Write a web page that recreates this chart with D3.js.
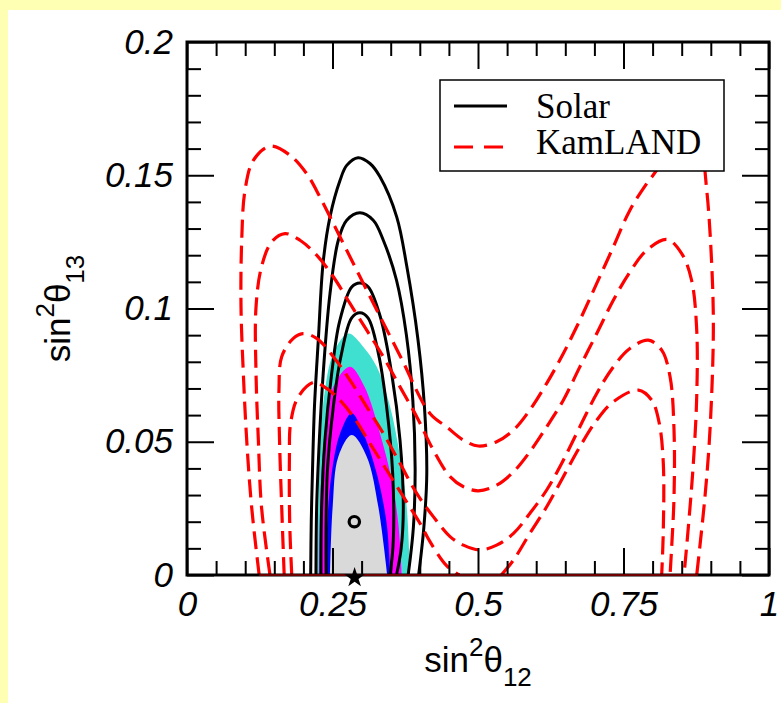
<!DOCTYPE html>
<html><head><meta charset="utf-8">
<script src="https://cdn.jsdelivr.net/npm/d3@7"></script>
<style>
html,body{margin:0;padding:0;background:#ffffb4;}
svg{display:block;}
</style></head><body>
<svg id="chart" width="781" height="703"></svg>
<script>
// ---------- data ----------
const xTickValues = [0, 0.25, 0.5, 0.75, 1];
const xTickLabels = ["0", "0.25", "0.5", "0.75", "1"];
const yTickValues = [0, 0.05, 0.1, 0.15, 0.2];
const yTickLabels = ["0", "0.05", "0.1", "0.15", "0.2"];
const legendLabels = ["Solar", "KamLAND"];

// combined-fit filled regions (outer to inner)
const fillTurquoise = [[0.222,0],[0.2256,0.0256],[0.2297,0.0506],[0.237,0.0694],[0.2514,0.0831],[0.277,0.0906],[0.303,0.0856],[0.326,0.0781],[0.349,0.0631],[0.366,0.0444],[0.3775,0.0256],[0.383,0]];
const fillMagenta = [[0.2268,0],[0.2297,0.0319],[0.237,0.0531],[0.2514,0.0706],[0.280,0.0781],[0.305,0.0706],[0.3316,0.0531],[0.3517,0.0356],[0.363,0.0194],[0.369,0]];
const fillBlue = [[0.2388,0],[0.241,0.0194],[0.2486,0.0381],[0.263,0.0531],[0.283,0.0607],[0.303,0.0531],[0.326,0.0381],[0.343,0.0194],[0.349,0]];
const fillGray = [[0.2457,0],[0.2503,0.0256],[0.26,0.0444],[0.283,0.0525],[0.3088,0.0444],[0.3287,0.0256],[0.344,0]];

// solar contours (black solid)
const solar1 = [[0.2125,0],[0.2135,0.02],[0.2155,0.0381],[0.219,0.0631],[0.2256,0.0881],[0.234,0.1174],[0.2457,0.1344],[0.263,0.1481],[0.2744,0.1537],[0.294,0.1566],[0.3144,0.1544],[0.3316,0.1494],[0.3603,0.1344],[0.3775,0.116],[0.397,0.0881],[0.408,0.0631],[0.412,0.0381],[0.407,0.018],[0.398,0]];
const solar2 = [[0.2216,0],[0.2228,0.0256],[0.2274,0.0506],[0.234,0.0756],[0.2457,0.1056],[0.26,0.1256],[0.2744,0.1331],[0.297,0.1359],[0.320,0.1331],[0.3373,0.1256],[0.360,0.1106],[0.377,0.09],[0.388,0.0656],[0.392,0.04],[0.389,0.018],[0.380,0]];
const solar3 = [[0.2302,0],[0.2314,0.0256],[0.237,0.0506],[0.2486,0.0756],[0.262,0.095],[0.283,0.1081],[0.297,0.1096],[0.3115,0.1081],[0.332,0.097],[0.3517,0.0756],[0.366,0.0506],[0.3717,0.0256],[0.368,0.01],[0.360,0]];
const solar4 = [[0.239,0],[0.241,0.0381],[0.2514,0.0631],[0.264,0.0815],[0.283,0.0965],[0.297,0.0984],[0.311,0.0965],[0.329,0.083],[0.343,0.0631],[0.3534,0.0381],[0.3545,0.013],[0.349,0]];

// KamLAND contours (red dashed)
const kam1 = [[0.124,0],[0.111,0.0256],[0.1026,0.0506],[0.0968,0.0756],[0.0928,0.1006],[0.094,0.1256],[0.0997,0.1444],[0.114,0.1556],[0.1426,0.1609],[0.177,0.1575],[0.2056,0.1506],[0.2285,0.1418],[0.2457,0.1344],[0.2686,0.1244],[0.2915,0.1144],[0.366,0.0823],[0.4175,0.0606],[0.446,0.0556],[0.475,0.0506],[0.5006,0.0484],[0.532,0.050],[0.561,0.0544],[0.589,0.0619],[0.618,0.0719],[0.6466,0.0831],[0.675,0.0956],[0.704,0.1094],[0.7325,0.1231],[0.761,0.1369],[0.790,0.1469],[0.807,0.1519],[0.835,0.163],[0.862,0.167],[0.882,0.161],[0.893,0.1444],[0.9015,0.1169],[0.9044,0.0919],[0.8986,0.0544],[0.890,0.0294],[0.8758,0]];
const kam2 = [[0.1426,0],[0.128,0.0256],[0.1226,0.0506],[0.1186,0.0756],[0.1186,0.1006],[0.128,0.1156],[0.1455,0.125],[0.1684,0.1281],[0.1942,0.1256],[0.2228,0.12],[0.2514,0.1119],[0.280,0.1019],[0.3088,0.0919],[0.3373,0.0819],[0.366,0.0706],[0.3947,0.0594],[0.4232,0.0469],[0.452,0.0369],[0.475,0.0331],[0.5006,0.0316],[0.532,0.0337],[0.561,0.0387],[0.589,0.0462],[0.618,0.0556],[0.6466,0.0656],[0.675,0.0781],[0.704,0.0906],[0.7325,0.1031],[0.761,0.1137],[0.790,0.1219],[0.825,0.1259],[0.85,0.1206],[0.867,0.1106],[0.8758,0.0919],[0.8758,0.0669],[0.87,0.0419],[0.861,0.0169],[0.854,0]];
const kam3 = [[0.167,0],[0.1627,0.0256],[0.159,0.0506],[0.158,0.0694],[0.1627,0.0819],[0.1827,0.0888],[0.199,0.0906],[0.2228,0.0888],[0.2514,0.0819],[0.280,0.0731],[0.3088,0.0631],[0.3373,0.0531],[0.366,0.0419],[0.3947,0.0306],[0.4232,0.0219],[0.452,0.0144],[0.475,0.0112],[0.503,0.0094],[0.532,0.0112],[0.561,0.0156],[0.589,0.0231],[0.618,0.0319],[0.6466,0.0431],[0.675,0.0556],[0.704,0.0681],[0.7325,0.0781],[0.761,0.085],[0.7927,0.0881],[0.8156,0.0844],[0.83,0.0744],[0.8368,0.0544],[0.8368,0.0294],[0.8328,0.0106],[0.83,0]];
const kam4Left = [[0.180,0],[0.1765,0.0194],[0.176,0.0444],[0.178,0.0569],[0.1913,0.0669],[0.218,0.0723],[0.234,0.0709],[0.257,0.0669],[0.2858,0.0594],[0.3144,0.0494],[0.343,0.0394],[0.3717,0.0294],[0.4003,0.0194],[0.4175,0.0125],[0.446,0.0035],[0.468,0]];
const kam4Right = [[0.54,0],[0.561,0.0056],[0.589,0.0156],[0.618,0.0256],[0.6466,0.0369],[0.675,0.0481],[0.704,0.0581],[0.7325,0.065],[0.7755,0.0694],[0.7985,0.0656],[0.8115,0.0569],[0.8184,0.0419],[0.8184,0.0169],[0.8156,0]];
const kamBaseline = [[0.124,0],[0.878,0]];

const bestFitCircle = [0.2875, 0.02];
const bestFitStar = [0.288, -0.001];

// ---------- drawing ----------
const svg = d3.select("#chart");
const W = 781, H = 703;
svg.append("rect").attr("width", W).attr("height", H).attr("fill", "#ffffb4");
svg.append("rect").attr("x", 8).attr("y", 10).attr("width", W - 8).attr("height", H - 10).attr("fill", "#ffffff");

const L = 187, R = 769, T = 42, B = 575;
const x = d3.scaleLinear().domain([0, 1]).range([L, R]);
const y = d3.scaleLinear().domain([0, 0.2]).range([B, T]);

svg.append("defs").append("clipPath").attr("id", "clip")
  .append("rect").attr("x", L).attr("y", T).attr("width", R - L).attr("height", B - T);

const plot = svg.append("g").attr("clip-path", "url(#clip)");
const line = d3.line().x(d => x(d[0])).y(d => y(d[1])).curve(d3.curveCatmullRom.alpha(0.5));

// fills
[[fillTurquoise, "#40e0d0"], [fillMagenta, "#ff00ff"], [fillBlue, "#0000ff"], [fillGray, "#d9d9d9"]].forEach(([d, c]) => {
  plot.append("path").attr("d", line(d) + "Z").attr("fill", c).attr("stroke", "none");
});

// solar
[solar1, solar2, solar3, solar4].forEach(d => {
  plot.append("path").attr("d", line(d)).attr("fill", "none").attr("stroke", "#000").attr("stroke-width", 3);
});

// kamland
[kam1, kam2, kam3, kam4Left, kam4Right].forEach(d => {
  plot.append("path").attr("d", line(d)).attr("fill", "none").attr("stroke", "#ff0000")
    .attr("stroke-width", 3.2).attr("stroke-dasharray", "18,8");
});

// axes
const minorX = d3.range(0, 21).map(i => i * 0.05).filter(v => !xTickValues.some(t => Math.abs(t - v) < 1e-9));
const minorY = d3.range(0, 21).map(i => i * 0.01).filter(v => !yTickValues.some(t => Math.abs(t - v) < 1e-9));

function clean(g) {
  g.select(".domain").remove();
  g.selectAll("line").attr("stroke", "#000").attr("stroke-width", 2);
}
function labelStyle(g) {
  g.selectAll("text").attr("font-family", "'Liberation Sans', Arial, sans-serif")
    .attr("font-style", "italic").attr("font-size", 35).attr("fill", "#000");
}
const noLabel = () => "";

svg.append("g").attr("transform", `translate(0,${B})`)
  .call(d3.axisBottom(x).tickValues(xTickValues).tickFormat((d, i) => xTickLabels[i]).tickSize(-27).tickPadding(16))
  .call(clean).call(labelStyle);
svg.append("g").attr("transform", `translate(0,${B})`)
  .call(d3.axisBottom(x).tickValues(minorX).tickFormat(noLabel).tickSize(-14)).call(clean);
svg.append("g").attr("transform", `translate(0,${T})`)
  .call(d3.axisTop(x).tickValues(xTickValues).tickFormat(noLabel).tickSize(-27)).call(clean);
svg.append("g").attr("transform", `translate(0,${T})`)
  .call(d3.axisTop(x).tickValues(minorX).tickFormat(noLabel).tickSize(-14)).call(clean);

svg.append("g").attr("transform", `translate(${L},0)`)
  .call(d3.axisLeft(y).tickValues(yTickValues).tickFormat((d, i) => yTickLabels[i]).tickSize(-27).tickPadding(14))
  .call(clean).call(labelStyle);
svg.append("g").attr("transform", `translate(${L},0)`)
  .call(d3.axisLeft(y).tickValues(minorY).tickFormat(noLabel).tickSize(-14)).call(clean);
svg.append("g").attr("transform", `translate(${R},0)`)
  .call(d3.axisRight(y).tickValues(yTickValues).tickFormat(noLabel).tickSize(-27)).call(clean);
svg.append("g").attr("transform", `translate(${R},0)`)
  .call(d3.axisRight(y).tickValues(minorY).tickFormat(noLabel).tickSize(-14)).call(clean);

// frame
svg.append("rect").attr("x", L).attr("y", T).attr("width", R - L).attr("height", B - T)
  .attr("fill", "none").attr("stroke", "#000").attr("stroke-width", 3);

// kamland degenerate baseline along w=0
svg.append("path").attr("d", d3.line().x(d => x(d[0])).y(d => y(d[1]))(kamBaseline))
  .attr("stroke", "#6e0000").attr("stroke-width", 2.2).attr("fill", "none");

// best-fit markers
svg.append("circle").attr("cx", x(bestFitCircle[0])).attr("cy", y(bestFitCircle[1])).attr("r", 5.2)
  .attr("fill", "none").attr("stroke", "#000").attr("stroke-width", 3.2);
svg.append("path").attr("d", d3.symbol().type(d3.symbolStar).size(130)())
  .attr("transform", `translate(${x(bestFitStar[0])},${y(bestFitStar[1])})`).attr("fill", "#000");

// axis titles
const xt = svg.append("text").attr("x", (L + R) / 2).attr("y", 672).attr("text-anchor", "middle")
  .attr("font-family", "'Liberation Sans', Arial, sans-serif").attr("font-size", 35).attr("fill", "#000");
xt.append("tspan").text("sin");
xt.append("tspan").attr("font-size", 26).attr("dy", -16).text("2");
xt.append("tspan").attr("dy", 16).text("θ");
xt.append("tspan").attr("font-size", 26).attr("dy", 14).text("12");

const yt = svg.append("text").attr("transform", `translate(70,${(T + B) / 2}) rotate(-90)`).attr("text-anchor", "middle")
  .attr("font-family", "'Liberation Sans', Arial, sans-serif").attr("font-size", 35).attr("fill", "#000");
yt.append("tspan").text("sin");
yt.append("tspan").attr("font-size", 26).attr("dy", -16).text("2");
yt.append("tspan").attr("dy", 16).text("θ");
yt.append("tspan").attr("font-size", 26).attr("dy", 14).text("13");

// legend
const lg = svg.append("g");
lg.append("rect").attr("x", 440).attr("y", 80).attr("width", 284).attr("height", 91)
  .attr("fill", "#fff").attr("stroke", "#000").attr("stroke-width", 1.5);
lg.append("line").attr("x1", 454).attr("x2", 507).attr("y1", 106).attr("y2", 106)
  .attr("stroke", "#000").attr("stroke-width", 3);
lg.append("line").attr("x1", 454).attr("x2", 507).attr("y1", 147).attr("y2", 147)
  .attr("stroke", "#ff0000").attr("stroke-width", 3).attr("stroke-dasharray", "19,11");
legendLabels.forEach((t, i) => {
  lg.append("text").attr("x", 536).attr("y", 118 + i * 36).text(t)
    .attr("font-family", "'Liberation Serif', 'Times New Roman', serif").attr("font-size", 35).attr("fill", "#000");
});
</script>
</body></html>
